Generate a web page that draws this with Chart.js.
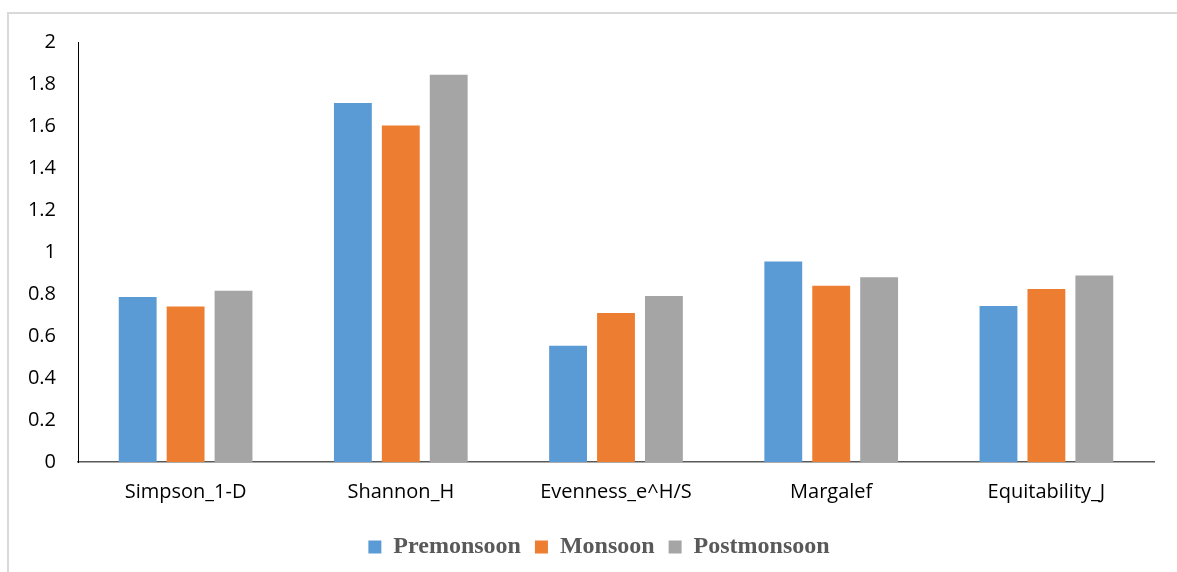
<!DOCTYPE html>
<html>
<head>
<meta charset="utf-8">
<script src="https://cdn.jsdelivr.net/npm/chart.js@4/dist/chart.umd.min.js"></script>
<style>
  html, body { margin: 0; padding: 0; background: #fff; }
  #wrap { position: relative; width: 1177px; height: 572px; }
  #frame { position: absolute; left: 7px; top: 12px; right: -2px; bottom: -2px;
           border-top: 2px solid #d9d9d9; border-left: 2px solid #d9d9d9; }
  canvas { position: absolute; left: 0; top: 0; }
</style>
</head>
<body>
<div id="wrap">
  <div id="frame"></div>
  <canvas id="chart" width="1177" height="572"></canvas>
</div>
<script>
const categories = ['Simpson_1-D', 'Shannon_H', 'Evenness_e^H/S', 'Margalef', 'Equitability_J'];
const premonsoon = [0.786, 1.710, 0.554, 0.955, 0.743];
const monsoon = [0.741, 1.602, 0.710, 0.839, 0.824];
const postmonsoon = [0.816, 1.844, 0.791, 0.880, 0.888];

const tickFont = { family: 'Open Sans', size: 20 };

// legend sits a bit right of the canvas centre in the original
const shiftLegend = {
    id: 'shiftLegend',
    afterLayout(chart) {
        chart.legend.left += 22;
        chart.legend.right += 22;
    }
};

const ctx = document.getElementById('chart').getContext('2d');
new Chart(ctx, {
    type: 'bar',
    data: {
        labels: categories,
        datasets: [
            { label: 'Premonsoon', data: premonsoon, backgroundColor: '#5B9BD5' },
            { label: 'Monsoon', data: monsoon, backgroundColor: '#ED7D31' },
            { label: 'Postmonsoon', data: postmonsoon, backgroundColor: '#A5A5A5' }
        ]
    },
    options: {
        responsive: false,
        animation: false,
        layout: { padding: { left: 0, right: 23, top: 42, bottom: 3 } },
        datasets: {
            bar: { categoryPercentage: 0.668, barPercentage: 0.79 }
        },
        scales: {
            x: {
                grid: { display: false, drawTicks: false },
                border: { display: true, color: '#595959', width: 1.5 },
                ticks: { color: '#000', font: tickFont, padding: 18 },
                afterFit: (scale) => { scale.height = 59; }
            },
            y: {
                min: 0,
                max: 2,
                grid: { display: false, drawTicks: false },
                border: { display: true, color: '#000', width: 1 },
                ticks: {
                    stepSize: 0.2, color: '#000', font: tickFont, padding: 22,
                    callback: (v) => String(Math.round(v * 10) / 10)
                },
                afterFit: (scale) => { scale.width = 78; }
            }
        },
        plugins: {
            tooltip: { enabled: false },
            legend: {
                position: 'bottom',
                labels: {
                    boxWidth: 13,
                    boxHeight: 13,
                    padding: 14,
                    color: '#595959',
                    font: { family: 'Liberation Serif', size: 24, weight: 'bold' }
                }
            }
        }
    },
    plugins: [shiftLegend]
});
</script>
</body>
</html>
